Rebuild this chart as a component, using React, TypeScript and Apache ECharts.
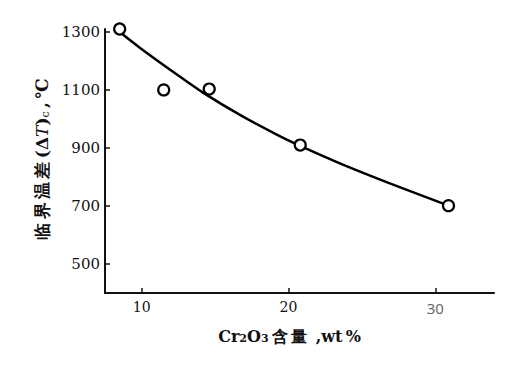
import React, { useEffect, useRef } from "react";
import * as echarts from "echarts";

const pointX = [8.5, 11.5, 14.6, 20.8, 30.9];
const pointY = [1310, 1100, 1103, 910, 701];

const curveX = [8.5, 10.1, 12.4, 14.2, 16.9, 19.2, 20.5, 23.5, 26.9, 30.9];
const curveY = [1300, 1237, 1153, 1090, 1008, 946, 914, 847, 778, 701];

const yTicks = [500, 700, 900, 1100, 1300];
const xTicks = [10, 20, 30];

export default function App() {
  const ref = useRef<HTMLDivElement>(null);
  useEffect(() => {
    if (!ref.current) return;
    const chart = echarts.init(ref.current, null, { renderer: "svg" });
    const serif = "DejaVu Serif";
    const ts = "\u2009";
    chart.setOption({
      animation: false,
      backgroundColor: "#ffffff",
      grid: { left: 105, right: 25, top: 29, bottom: 79 },
      xAxis: {
        type: "value",
        min: 7.5,
        max: 34,
        name: `{a|Cr}{s|2}{a|O}{s|3}{a|${ts}含${ts}量${ts} ,wt${ts}%}`,
        nameLocation: "middle",
        nameGap: 33,
        nameTextStyle: {
          color: "#111",
          padding: [0, 20, 0, 0],
          rich: {
            a: { fontFamily: serif, fontWeight: "bold", fontSize: 16, color: "#111", lineHeight: 18, verticalAlign: "bottom" },
            s: { fontFamily: serif, fontWeight: "bold", fontSize: 11, color: "#111", lineHeight: 18, verticalAlign: "bottom" },
          },
        },
        axisLine: { show: true, onZero: false, lineStyle: { color: "#111", width: 2 } },
        axisTick: { show: true, inside: true, length: 5, customValues: xTicks, lineStyle: { color: "#111", width: 1.5 } },
        axisLabel: {
          customValues: xTicks,
          margin: 7,
          fontFamily: serif,
          fontSize: 14,
          color: "#111",
          formatter: (v: number) => (v === 30 ? "{g|30}" : String(v)),
          rich: { g: { fontFamily: "Noto Sans", fontSize: 15, color: "#666" } },
        },
        splitLine: { show: false },
      },
      yAxis: {
        type: "value",
        min: 400,
        max: 1310,
        name: `{a|临${ts}界${ts}温${ts}差${ts}(Δ}{i|T}{a|)}{s|c}{a|${ts},${ts}℃}`,
        nameLocation: "middle",
        nameRotate: 90,
        nameGap: 44,
        nameTextStyle: {
          color: "#111",
          padding: [0, 0, 0, 4],
          rich: {
            a: { fontFamily: serif, fontWeight: "bold", fontSize: 17, color: "#111", lineHeight: 20, verticalAlign: "bottom" },
            i: { fontFamily: serif, fontStyle: "italic", fontSize: 17, color: "#111", lineHeight: 20, verticalAlign: "bottom" },
            s: { fontFamily: serif, fontSize: 11, color: "#111", lineHeight: 20, verticalAlign: "bottom" },
          },
        },
        axisLine: { show: true, onZero: false, lineStyle: { color: "#111", width: 2 } },
        axisTick: { show: true, inside: true, length: 5, customValues: yTicks, lineStyle: { color: "#111", width: 1.5 } },
        axisLabel: {
          customValues: yTicks,
          margin: 5,
          fontFamily: serif,
          fontSize: 15,
          color: "#111",
          formatter: (v: number) => String(v),
        },
        splitLine: { show: false },
      },
      series: [
        {
          type: "line",
          data: curveX.map((x, i) => [x, curveY[i]]),
          smooth: 0.25,
          symbol: "none",
          lineStyle: { color: "#000", width: 2.5 },
          z: 2,
        },
        {
          type: "scatter",
          data: pointX.map((x, i) => [x, pointY[i]]),
          symbol: "circle",
          symbolSize: 11,
          itemStyle: { color: "#fff", borderColor: "#000", borderWidth: 2.2, opacity: 1 },
          z: 3,
        },
      ],
    });
    return () => chart.dispose();
  }, []);
  return (
    <div
      ref={ref}
      style={{ position: "fixed", left: 0, top: 0, width: 519, height: 372, background: "#fff" }}
    />
  );
}
